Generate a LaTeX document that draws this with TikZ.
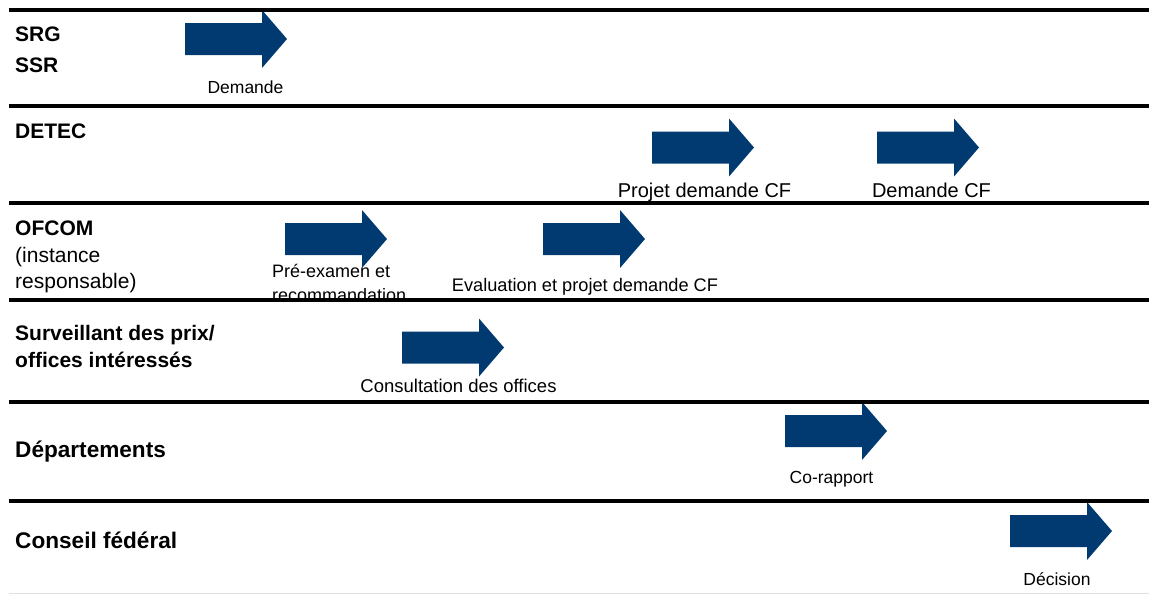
\documentclass[tikz,border=0pt]{standalone}
\usepackage{fontspec}
\setmainfont{Liberation Sans}
\definecolor{arrowblue}{RGB}{0,58,112}
\tikzset{
  flowarrow/.pic={
    \fill[arrowblue] (0,-16) -- (77,-16) -- (77,-29) -- (102,0)
      -- (77,29) -- (77,16) -- (0,16) -- cycle;
  }
}
\begin{document}
\begin{tikzpicture}[x=1pt,y=-1pt,
  lane/.style={line width=3.5pt, black},
  actor/.style={anchor=base west, inner sep=0pt, font=\fontsize{21}{25}\selectfont\bfseries},
  actorwide/.style={anchor=base west, inner sep=0pt, font=\fontsize{22.6}{26}\selectfont\bfseries},
  actornote/.style={anchor=base west, inner sep=0pt, font=\fontsize{21}{25}\selectfont},
  steptext/.style={anchor=base, inner sep=0pt, font=\fontsize{#1}{#1}\selectfont},
  steptextleft/.style={anchor=base west, inner sep=0pt, font=\fontsize{#1}{#1}\selectfont}]
\useasboundingbox (0,0) rectangle (1149,595);

% actors
\node[actor] (srg) at (15,41) {SRG};
\node[actor] (ssr) at (15,72) {SSR};
\node[actor] (detec) at (15,138) {DETEC};
\node[actor] (ofcom) at (15,235) {OFCOM};
\node[actornote] (ofcom2) at (15,262) {(instance};
\node[actornote] (ofcom3) at (15,288) {responsable)};
\node[actor] (surv) at (15,340) {Surveillant des prix/};
\node[actor] (surv2) at (15,367) {offices intéressés};
\node[actorwide] (dep) at (15,457) {Départements};
\node[actorwide] (cf) at (15,548) {Conseil fédéral};

% process steps
\pic (a1) at (185,39) {flowarrow};
\pic (a2) at (652,147.5) {flowarrow};
\pic (a3) at (877,147.5) {flowarrow};
\pic (a4) at (285,239) {flowarrow};
\pic (a5) at (543,239) {flowarrow};
\pic (a6) at (402,347.5) {flowarrow};
\pic (a7) at (785,431) {flowarrow};
\pic (a8) at (1010,531) {flowarrow};

% step labels
\node[steptext=17.5] (t1) at (245.5,93) {Demande};
\node[steptext=20] (t2) at (704.5,197) {Projet demande CF};
\node[steptext=20] (t3) at (931.5,197) {Demande CF};
\node[steptextleft=18] (t4) at (272,277) {Pré-examen et};
\node[steptextleft=18] (t4b) at (272,301) {recommandation};
\node[steptext=18.2] (t5) at (585,291) {Evaluation et projet demande CF};
\node[steptext=18.5] (t6) at (458.5,392) {Consultation des offices};
\node[steptext=17.5] (t7) at (831.5,483) {Co-rapport};
\node[steptext=17.5] (t8) at (1057,585) {Décision};

% lane separators
\coordinate (l0a) at (9,10);   \coordinate (l0b) at (1149,10);
\coordinate (l1a) at (9,106);  \coordinate (l1b) at (1149,106);
\coordinate (l2a) at (9,203);  \coordinate (l2b) at (1149,203);
\coordinate (l3a) at (9,300);  \coordinate (l3b) at (1149,300);
\coordinate (l4a) at (9,402);  \coordinate (l4b) at (1149,402);
\coordinate (l5a) at (9,501);  \coordinate (l5b) at (1149,501);
\coordinate (l6a) at (9,593);  \coordinate (l6b) at (1149,593);
\foreach \i in {0,...,5} \draw[lane] (l\i a) -- (l\i b);
\draw[black!12, line width=1pt] (l6a) -- (l6b);
\end{tikzpicture}
\end{document}
